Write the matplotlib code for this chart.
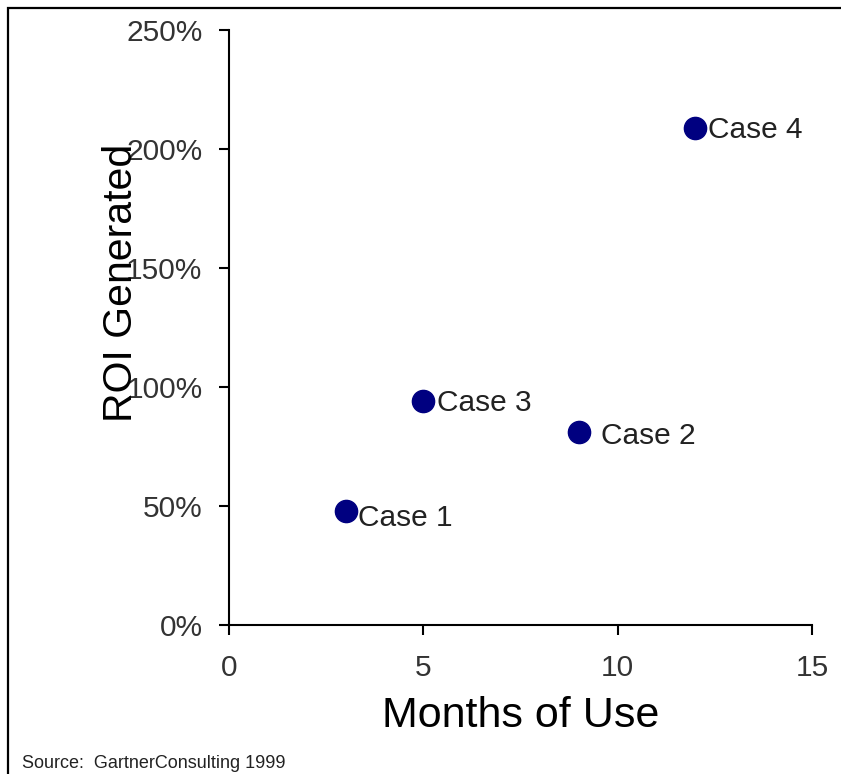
import matplotlib.pyplot as plt
from matplotlib.patches import Rectangle
from matplotlib.ticker import FuncFormatter

plt.rcParams['font.family'] = ['Liberation Sans', 'DejaVu Sans']

# data
cases = ['Case 1', 'Case 2', 'Case 3', 'Case 4']
months = [3, 9, 5, 12]
roi = [48, 81, 94, 209]  # percent
# label nudges (points) so each label sits like the original
label_dx = [9, 16, 10, 9]
label_dy = [-5, -3, -1, -2]

fig = plt.figure(figsize=(8.41, 7.74), dpi=100)
ax = fig.add_axes([229/841, 1-625/774, (812-229)/841, (625-30)/774])

ax.plot(months, roi, 'o', color='#000080', markersize=16, linestyle='none')
for c, x, y, dx, dy in zip(cases, months, roi, label_dx, label_dy):
    ax.annotate(c, (x, y), xytext=(dx, dy), textcoords='offset points',
                ha='left', va='center', fontsize=21.5, color='#222222')

ax.set_xlim(0, 15)
ax.set_ylim(0, 250)
ax.set_xticks([0, 5, 10, 15])
ax.set_yticks([0, 50, 100, 150, 200, 250])
ax.yaxis.set_major_formatter(FuncFormatter(lambda v, p: f'{v:.0f}%'))
ax.tick_params(direction='out', length=7, width=1.5, labelsize=21.5,
               labelcolor='#333333', pad=12)
ax.tick_params(axis='x', pad=14)

for s in ['top', 'right']:
    ax.spines[s].set_visible(False)
for s in ['left', 'bottom']:
    ax.spines[s].set_linewidth(1.5)

ax.set_xlabel('Months of Use', fontsize=31)
ax.xaxis.set_label_coords(0.5, -0.119)
# the y label overlaps the tick labels in the original too
ax.set_ylabel('ROI Generated', fontsize=29.5)
ax.yaxis.set_label_coords(-0.152, 0.575)

# frame around the slide figure
fig.add_artist(Rectangle((8/841, -0.1), 1.2, 1.1 - 8/774, transform=fig.transFigure,
                         fill=False, edgecolor='black', linewidth=1.6))

fig.text(22/841, 6/774, 'Source:  GartnerConsulting 1999', fontsize=13,
         va='baseline', ha='left', color='#222222')

fig.savefig('out.png', dpi=100)
